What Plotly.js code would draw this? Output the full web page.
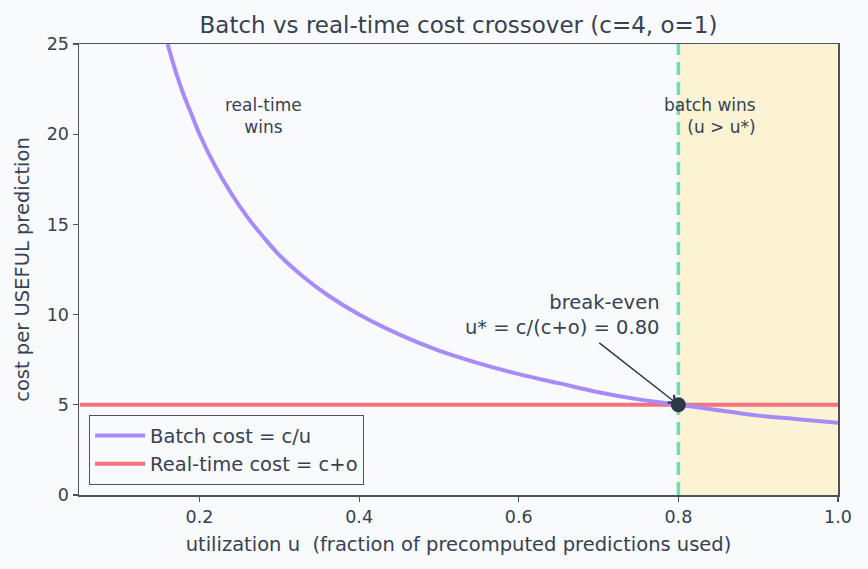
<!DOCTYPE html>
<html>
<head>
<meta charset="utf-8">
<script src="https://cdn.plot.ly/plotly-3.0.1.min.js"></script>
<style>
  html, body { margin: 0; padding: 0; background: #f9fafc; }
  #chart { width: 868px; height: 569px; }
</style>
</head>
<body>
<div id="chart"></div>
<script>
// Cost per useful prediction vs utilization (c = 4, o = 1)
const utilization = [0.16, 0.17, 0.18, 0.19, 0.2, 0.22, 0.24, 0.26, 0.28, 0.3, 0.33, 0.36, 0.4, 0.45, 0.5, 0.55, 0.6, 0.65, 0.7, 0.75, 0.8, 0.85, 0.9, 0.95, 1.0];
const batchCost = [25, 23.5, 22.2, 21.1, 20, 18.2, 16.7, 15.4, 14.3, 13.3, 12.1, 11.1, 10, 8.9, 8, 7.3, 6.7, 6.2, 5.7, 5.3, 5, 4.7, 4.4, 4.2, 4];
const realtimeU = [0.05, 1.0];
const realtimeCost = [5, 5];
const breakEvenU = 0.8;
const breakEvenCost = 5;
const xTicks = [0.2, 0.4, 0.6, 0.8, 1.0];
const xTickText = ['0.2', '0.4', '0.6', '0.8', '1.0'];
const yTicks = [0, 5, 10, 15, 20, 25];

const ink = '#374151';
const spine = '#4b5260';
const font = 'DejaVu Sans, sans-serif';

// real-time line first so the batch curve sits on top of it
const traces = [
  {
    x: realtimeU, y: realtimeCost, mode: 'lines', name: 'Real-time cost = c+o',
    line: { color: '#f4717f', width: 4 },
    hoverinfo: 'skip'
  },
  {
    x: utilization, y: batchCost, mode: 'lines', name: 'Batch cost = c/u',
    line: { color: '#a78bfa', width: 4, shape: 'spline', smoothing: 1 },
    hoverinfo: 'skip'
  },
  {
    x: [breakEvenU], y: [breakEvenCost], mode: 'markers', showlegend: false,
    marker: { color: '#2d3748', size: 15 },
    hoverinfo: 'skip'
  }
];

const layout = {
  width: 868, height: 569,
  paper_bgcolor: '#f9fafc',
  plot_bgcolor: '#f9fafc',
  margin: { l: 79, r: 30, t: 44, b: 74 },
  font: { family: font, color: ink, size: 17 },
  title: {
    text: 'Batch vs real-time cost crossover (c=4, o=1)',
    font: { family: font, size: 23, color: ink },
    xref: 'paper', x: 0.5, xanchor: 'center', y: 0.957, yanchor: 'middle'
  },
  xaxis: {
    range: [0.049, 1.0],
    tickvals: xTicks, ticktext: xTickText,
    ticks: 'outside', ticklen: 5, tickwidth: 1.2, tickcolor: spine,
    showgrid: false, zeroline: false,
    showline: true, linecolor: spine, linewidth: 1.5, mirror: true,
    tickfont: { family: font, size: 17.5, color: ink },
    title: { text: 'utilization u  (fraction of precomputed predictions used)', font: { family: font, size: 19.5, color: ink }, standoff: 12 }
  },
  yaxis: {
    range: [0, 25],
    tickvals: yTicks,
    ticks: 'outside', ticklen: 5, tickwidth: 1.2, tickcolor: spine,
    showgrid: false, zeroline: false,
    showline: true, linecolor: spine, linewidth: 1.5, mirror: true,
    tickfont: { family: font, size: 17.5, color: ink },
    title: { text: 'cost per USEFUL prediction', font: { family: font, size: 19.5, color: ink }, standoff: 12 }
  },
  showlegend: true,
  legend: {
    x: 0.013, y: 0.022, xanchor: 'left', yanchor: 'bottom',
    traceorder: 'reversed',
    bgcolor: '#f9fafc', bordercolor: spine, borderwidth: 1.2,
    font: { family: font, size: 19.5, color: ink },
    itemwidth: 50,
    tracegroupgap: 0
  },
  shapes: [
    {
      type: 'rect', xref: 'x', yref: 'paper', x0: breakEvenU, x1: 1.0, y0: 0, y1: 1,
      fillcolor: '#fcf3d4', line: { width: 0 }, layer: 'below'
    },
    {
      type: 'line', xref: 'x', yref: 'paper', x0: breakEvenU, x1: breakEvenU, y0: 0, y1: 1,
      line: { color: '#6ee0b0', width: 3.5, dash: '13px,7px' }, layer: 'below'
    }
  ],
  annotations: [
    {
      x: 0.28, y: 21, xref: 'x', yref: 'y', showarrow: false,
      text: 'real-time<br>wins', align: 'center', xanchor: 'center', yanchor: 'middle',
      font: { family: font, size: 17, color: ink }
    },
    {
      x: 0.9, y: 21, xref: 'x', yref: 'y', showarrow: false,
      text: 'batch wins<br>(u > u*)', align: 'right', xanchor: 'right', yanchor: 'middle',
      font: { family: font, size: 17, color: ink }
    },
    {
      x: 0.779, y: 10, xref: 'x', yref: 'y', showarrow: false,
      text: 'break-even<br>u* = c/(c+o) = 0.80', align: 'right', xanchor: 'right', yanchor: 'middle',
      font: { family: font, size: 19.5, color: ink }
    },
    {
      x: breakEvenU, y: breakEvenCost, xref: 'x', yref: 'y',
      ax: 0.699, ay: 8.5, axref: 'x', ayref: 'y',
      text: '', showarrow: true, arrowhead: 4, arrowsize: 1.3, arrowwidth: 1.5,
      arrowcolor: '#2d3748', standoff: 3
    }
  ]
};

Plotly.newPlot('chart', traces, layout, { displayModeBar: false, staticPlot: true });
</script>
</body>
</html>
